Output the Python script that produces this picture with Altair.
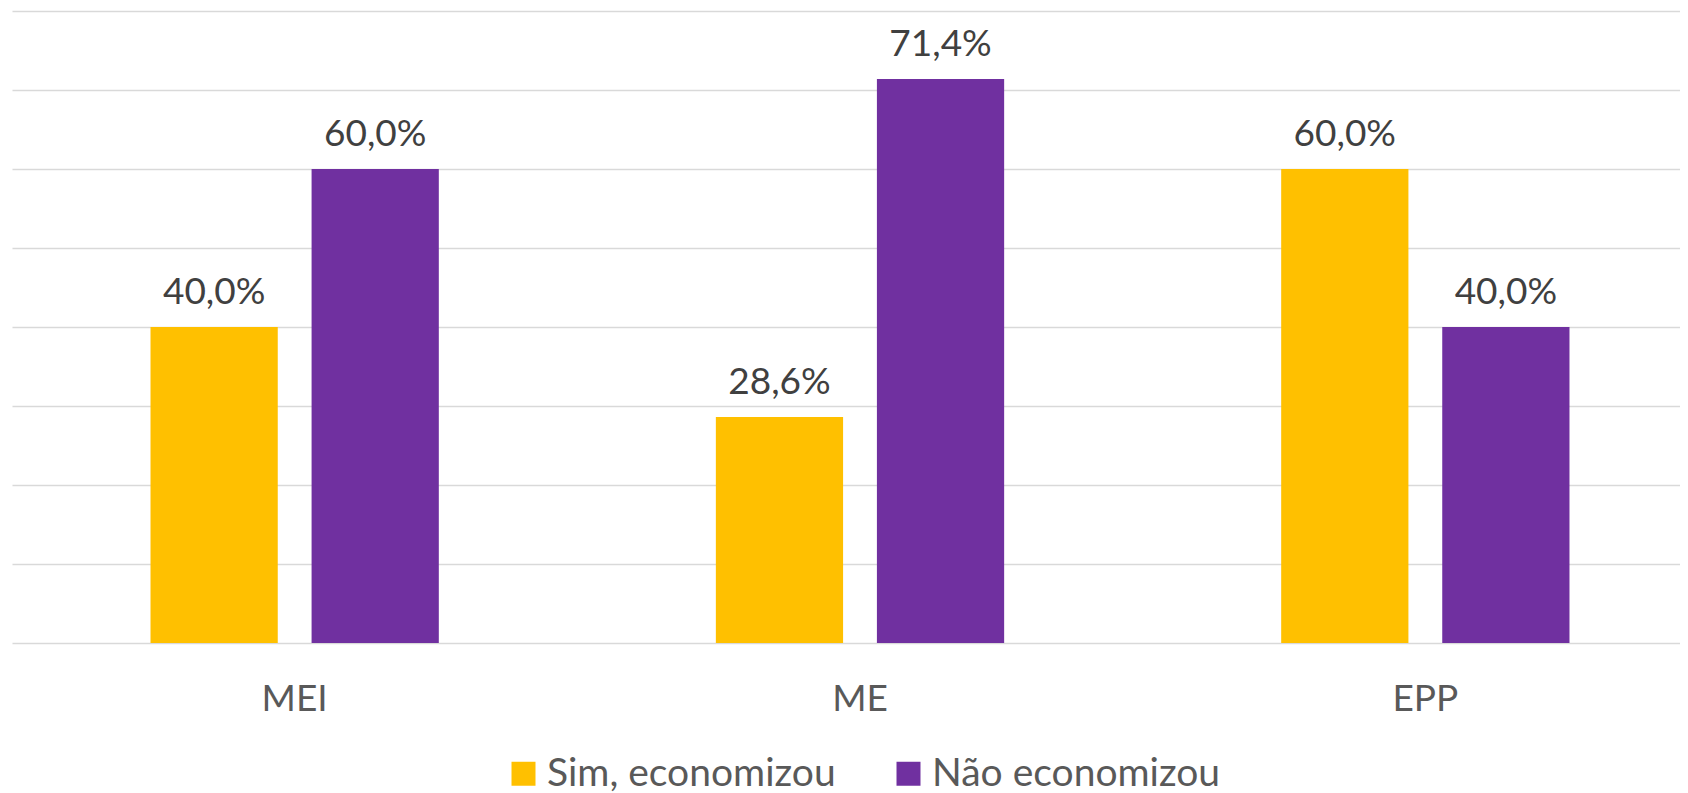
import altair as alt
import pandas as pd

categories = ["MEI", "ME", "EPP"]
series = ["Sim, economizou", "Não economizou"]
sim_values = [0.400, 0.286, 0.600]
nao_values = [0.600, 0.714, 0.400]
colors = ["#FFC000", "#7030A0"]
grid_values = [0.0, 0.1, 0.2, 0.3, 0.4, 0.5, 0.6, 0.7, 0.8]

rows = []
for c, s, n in zip(categories, sim_values, nao_values):
    rows.append({"cat": c, "serie": series[0], "v": s})
    rows.append({"cat": c, "serie": series[1], "v": n})
df = pd.DataFrame(rows)

FONT = "Lato"

x_enc = alt.X("cat:N", sort=categories,
              scale=alt.Scale(range=[1, 1697], paddingInner=0, paddingOuter=0),
              axis=alt.Axis(title=None, domain=False, ticks=False, tickSize=0, grid=False,
                            labelAngle=0, labelFont=FONT, labelFontSize=37,
                            labelColor="#595959", labelBaseline="alphabetic",
                            labelPadding=67))
xoff_enc = alt.XOffset("serie:N", sort=series,
                       scale=alt.Scale(paddingInner=0.21, paddingOuter=0.86))
y_enc = alt.Y("v:Q", scale=alt.Scale(domain=[0, 0.8], nice=False),
              axis=alt.Axis(title=None, labels=False, ticks=False, domain=False,
                            grid=True, values=grid_values, gridColor="#D9D9D9",
                            gridWidth=1.3))

base = alt.Chart(df)

bars = base.mark_bar().encode(
    x=x_enc,
    xOffset=xoff_enc,
    y=y_enc,
    color=alt.Color("serie:N", sort=series,
                    scale=alt.Scale(domain=series, range=colors),
                    legend=alt.Legend(title=None, orient="none", direction="horizontal",
                                      legendX=493, legendY=743,
                                      symbolType="square", symbolSize=576,
                                      symbolStrokeWidth=0, symbolOpacity=1,
                                      labelFont=FONT, labelFontSize=39, labelLimit=0,
                                      labelColor="#595959", labelOffset=4,
                                      columnPadding=53, padding=0)),
)

labels = base.transform_calculate(
    lbl="replace(format(datum.v, '.1%'), '.', ',')"
).mark_text(font=FONT, fontSize=37, color="#404040", baseline="alphabetic",
            align="center", dy=-23).encode(
    x=alt.X("cat:N", sort=categories),
    xOffset=alt.XOffset("serie:N", sort=series),
    y=alt.Y("v:Q"),
    text="lbl:N",
)

chart = alt.layer(bars, labels).properties(
    width=1669, height=632,
    autosize=alt.AutoSizeParams(type="none"),
    padding={"left": 3, "top": 3, "right": 0, "bottom": 150},
).configure_view(stroke=None)

chart.save("out.html", embed_options={"renderer": "svg", "actions": False})
